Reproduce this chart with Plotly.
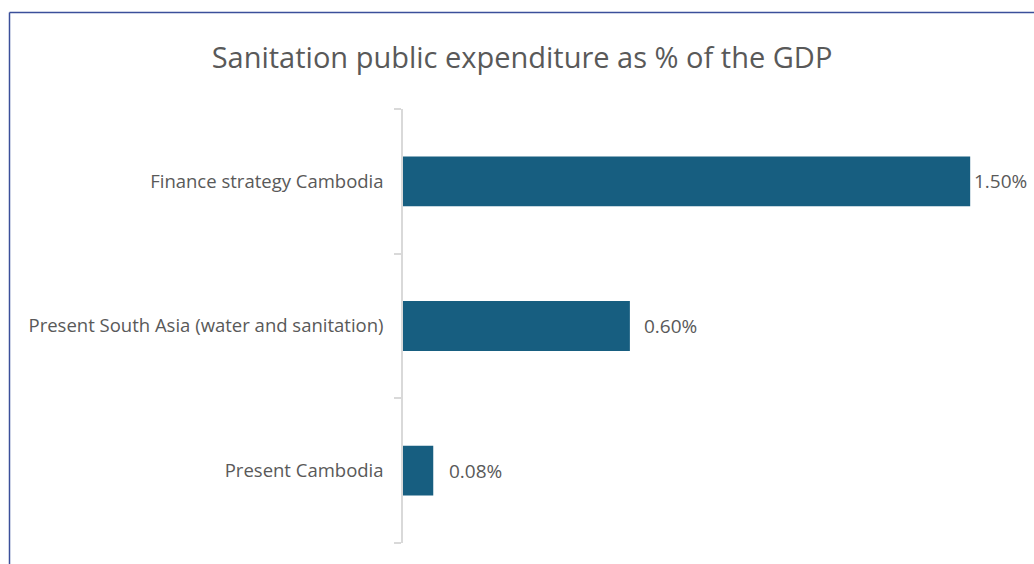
import plotly.graph_objects as go

# Sanitation public expenditure, % of GDP
categories = ["Present Cambodia", "Present South Asia (water and sanitation)", "Finance strategy Cambodia"]
values = [0.08, 0.60, 1.50]
labels = ["0.08%", "0.60%", "1.50%"]

bar_color = "#175e80"
text_color = "#595959"
axis_color = "#d9d9d9"
frame_color = "#3b4f9a"
font_family = "'Open Sans', sans-serif"

W, H = 1034, 564
m_l, m_r, m_t, m_b = 403, 26, 109, 21
x_max = 1.6

fig = go.Figure()
fig.add_trace(go.Bar(
    x=values, y=categories, orientation="h",
    marker=dict(color=bar_color, line=dict(width=0)),
    hoverinfo="skip",
))

# value labels placed just past each bar end
shifts = [14, 12, 2]
for v, c, t, s in zip(values, categories, labels, shifts):
    fig.add_annotation(x=v, y=c, text=t, xref="x", yref="y",
                       xanchor="left", yanchor="middle", xshift=s,
                       showarrow=False,
                       font=dict(family=font_family, size=19, color=text_color))

# outer frame (top and left edges)
pw = W - m_l - m_r
ph = H - m_t - m_b
def px(xp):
    return (xp - m_l) / pw
def py(yp):
    return (H - m_b - yp) / ph
fig.add_shape(type="line", xref="paper", yref="paper",
              x0=px(9.5), x1=px(W + 5), y0=py(12.5), y1=py(12.5),
              line=dict(color=frame_color, width=1.5))
fig.add_shape(type="line", xref="paper", yref="paper",
              x0=px(9.5), x1=px(9.5), y0=py(12.5), y1=py(H + 5),
              line=dict(color=frame_color, width=1.5))

fig.update_layout(
    width=W, height=H,
    margin=dict(l=m_l, r=m_r, t=m_t, b=m_b),
    paper_bgcolor="white", plot_bgcolor="white",
    bargap=0.655,
    showlegend=False,
    title=dict(text="Sanitation public expenditure as % of the GDP",
               x=522 / W, xref="container", xanchor="center",
               y=1 - 58 / H, yanchor="middle", yref="container",
               font=dict(family=font_family, size=29, color=text_color)),
    xaxis=dict(range=[0, x_max], visible=False, fixedrange=True),
    yaxis=dict(showline=True, linecolor=axis_color, linewidth=1.5,
               ticks="outside", tickson="boundaries", ticklen=7,
               tickcolor=axis_color, tickwidth=1.5,
               ticklabelstandoff=14,
               showgrid=False, zeroline=False,
               tickfont=dict(family=font_family, size=18.5, color=text_color)),
)

fig.write_html("out.html")
